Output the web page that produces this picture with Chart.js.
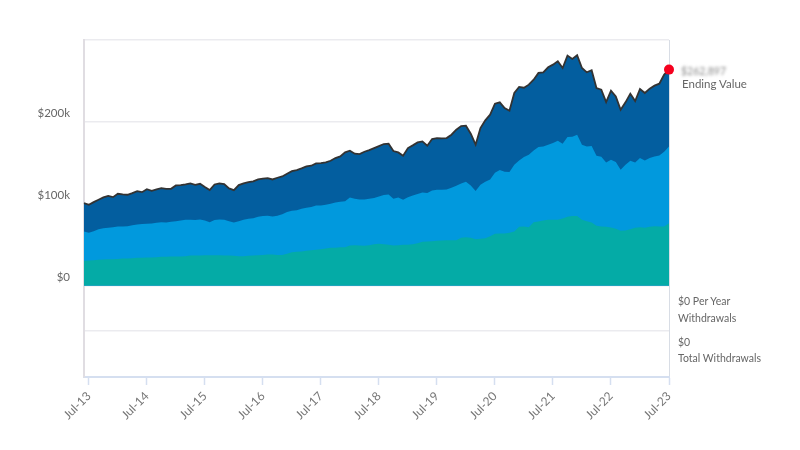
<!DOCTYPE html>
<html>
<head>
<meta charset="utf-8">
<title>Ending Value</title>
<script src="https://cdn.jsdelivr.net/npm/chart.js@4/dist/chart.umd.min.js"></script>
<style>
  body { margin: 0; background: #fff; font-family: Lato, sans-serif; color: #666; }
  #wrap { position: relative; width: 800px; height: 450px; overflow: hidden; }
  .note { position: absolute; font-size: 10.5px; line-height: 14px; white-space: nowrap; }
  .big { font-size: 11.5px; }
  .blurred { filter: blur(1.6px); color: #888; }
</style>
</head>
<body>
<div id="wrap">
  <canvas id="myChart" width="800" height="450"></canvas>
  <div class="note blurred" style="left:681px;top:64px">$262,897</div>
  <div class="note big" style="left:682px;top:77px">Ending Value</div>
  <div class="note" style="left:678px;top:294px">$0 Per Year</div>
  <div class="note" style="left:678px;top:311px">Withdrawals</div>
  <div class="note" style="left:678px;top:335px">$0</div>
  <div class="note" style="left:678px;top:351px">Total Withdrawals</div>
</div>
<script>
'use strict';
// values in $k, Jun-13 to Jul-23
let totalValues = [100.6,98.5,101.8,104.7,107.5,109.5,107.9,112,111.2,110.8,112.8,115.3,114,117.7,115.7,117.3,118.9,118.1,118.1,122.2,
  122.6,123.4,124.6,123,124.2,120.2,116.5,123.4,124.6,123.8,118.5,116.5,122.6,124.6,126.3,127.1,129.5,130.4,131.2,129.5,
  131.6,133.2,136.5,139.7,141,143,145.5,146.3,149.1,149.5,150.3,152.4,155.7,157.7,162.6,164.6,161,160.5,163.4,165.4,
  167.9,170.3,172.8,173.2,164.2,162.6,158.5,167.9,171.2,174.8,176,170.7,178.9,180.1,179.7,180.1,184.2,190.3,194.8,195.2,
  185.4,172,192.4,201.8,208.7,222.2,223.8,216.9,213.6,235.2,242.6,241.7,245.4,251.5,259.7,260.5,266.6,269.9,274,265.8,
  280.9,276.8,281.3,265.8,260.5,263,241.3,239.3,224.2,238.1,231.1,214.8,223.8,234.4,225.4,240.1,235.2,240.5,244.2,246.6,
  257.7,263.8];
let middleValues = [65.9,64.3,66.3,68.7,70,70.4,71.2,72,72,72.4,73.6,74.5,74.9,75.3,75.7,76.5,77.3,76.9,77.7,78.5,
  79.4,80.2,80.2,79.8,80.6,79.4,77.3,79.8,80.6,80.2,78.5,76.9,78.5,80.2,81.4,82.2,83.8,84.7,85.1,84.3,
  85.1,87.1,89.6,91.2,92,93.6,94.9,95.7,97.7,97.7,98.5,99.8,101.4,102.2,103,107.5,105.9,105.1,105.1,105.9,
  106.7,108.7,110.4,111.2,105.9,107.5,104.7,107.9,110,111.6,113.6,112.8,116.1,116.9,116.9,117.3,119.3,121.8,124.6,126.7,
  122.2,115.3,123,126.7,129.5,137.7,141,138.9,138.5,147.5,152.8,156.9,159.7,165,169.1,169.9,172,174,176.9,173.2,
  181.4,181.8,184.2,172,169.9,170.3,158.5,157.3,150.3,153.6,150.8,141.4,147.5,152.4,150.3,155.7,152.8,155.7,157.7,158.9,
  163.4,169.9];
let baseValues = [30,30.4,30.8,31.2,31.6,32,32,32.4,32.8,32.8,33.3,33.7,33.7,34.1,34.1,34.5,34.9,34.9,35.3,35.3,
  35.3,35.7,36.5,36.5,36.5,36.9,36.9,36.9,36.9,36.5,36.5,36.1,35.7,35.7,36.1,36.5,36.9,37.3,37.7,37.7,
  37.3,37.3,38.6,40.6,41,41.4,42.2,43,43.5,44.3,45.1,45.9,45.9,46.7,46.7,48.8,49.2,48.8,48.4,49.2,
  50.4,50.8,50.4,49.6,48.8,49.2,49.6,49.6,50.4,51.6,53.2,53.7,54.1,54.5,54.9,55.3,55.3,55.3,58.1,59,
  58.1,56.5,56.9,57.7,60.2,63,63.4,63.4,64.3,65.9,71.6,72,71.2,77.3,78.1,79.4,80.2,80.2,80.2,81.8,
  83.8,84.7,84.7,80.2,78.5,76.9,72.8,72,71.6,70.8,69.2,66.7,67.1,68.7,70.4,71.2,70.4,71.6,72.4,72,
  72,76.1];
let yTicks = [-56, 0, 100, 200, 300];
let yLabels = ['', '$0', '$100k', '$200k', ''];
let monthNames = ['Jan','Feb','Mar','Apr','May','Jun','Jul','Aug','Sep','Oct','Nov','Dec'];

let categories = [];
for (let i = 0; i < totalValues.length; i++) {
  let m = (5 + i) % 12;
  let yr = 13 + Math.floor((5 + i) / 12);
  categories.push(monthNames[m] + '-' + yr);
}
let lastIndex = categories.length - 1;

let ctx = document.getElementById('myChart').getContext('2d');
let myChart = new Chart(ctx, {
  type: 'line',
  data: {
    labels: categories,
    datasets: [
      { data: baseValues, backgroundColor: '#04aba6', borderWidth: 0, fill: 'origin', pointRadius: 0 },
      { data: middleValues, backgroundColor: '#0199dd', borderWidth: 0, fill: 'origin', pointRadius: 0 },
      {
        data: totalValues, backgroundColor: '#035e9f', borderColor: '#333333', borderWidth: 1.8, fill: 'origin', clip: false,
        pointRadius: function (c) { return c.dataIndex === lastIndex ? 5 : 0; },
        pointBackgroundColor: '#f5001e', pointBorderWidth: 0
      }
    ]
  },
  options: {
    responsive: false,
    animation: false,
    layout: { autoPadding: false, padding: { top: 40, right: 131, left: 0, bottom: 0 } },
    plugins: { legend: { display: false }, tooltip: { enabled: false } },
    elements: { line: { tension: 0 } },
    scales: {
      x: {
        afterFit: function (scale) { scale.height = 73; },
        afterBuildTicks: function (scale) {
          scale.ticks = scale.ticks.filter(function (t) { return categories[t.value].indexOf('Jul') === 0; });
        },
        border: { color: '#d5dff0', width: 2 },
        grid: {
          color: function (c) { return c.tick && c.tick.value === lastIndex ? '#d8dde5' : 'rgba(0,0,0,0)'; },
          tickColor: '#d5dff0',
          tickWidth: 1.5,
          tickLength: 8
        },
        ticks: {
          autoSkip: false, maxRotation: 45, minRotation: 45, padding: 4,
          color: '#777', font: { family: 'Lato', size: 12 }
        }
      },
      y: {
        min: -112,
        max: 300,
        afterFit: function (scale) { scale.width = 84; },
        afterBuildTicks: function (scale) {
          scale.ticks = yTicks.map(function (v) { return { value: v }; });
        },
        border: { color: '#e0dde2', width: 2 },
        grid: { color: '#ebebef', lineWidth: 1.5, drawTicks: false },
        ticks: {
          autoSkip: false, padding: 14, labelOffset: -8,
          color: '#666', font: { family: 'Lato', size: 11.5 },
          callback: function (v) { return yLabels[yTicks.indexOf(v)]; }
        }
      }
    }
  }
});
</script>
</body>
</html>
